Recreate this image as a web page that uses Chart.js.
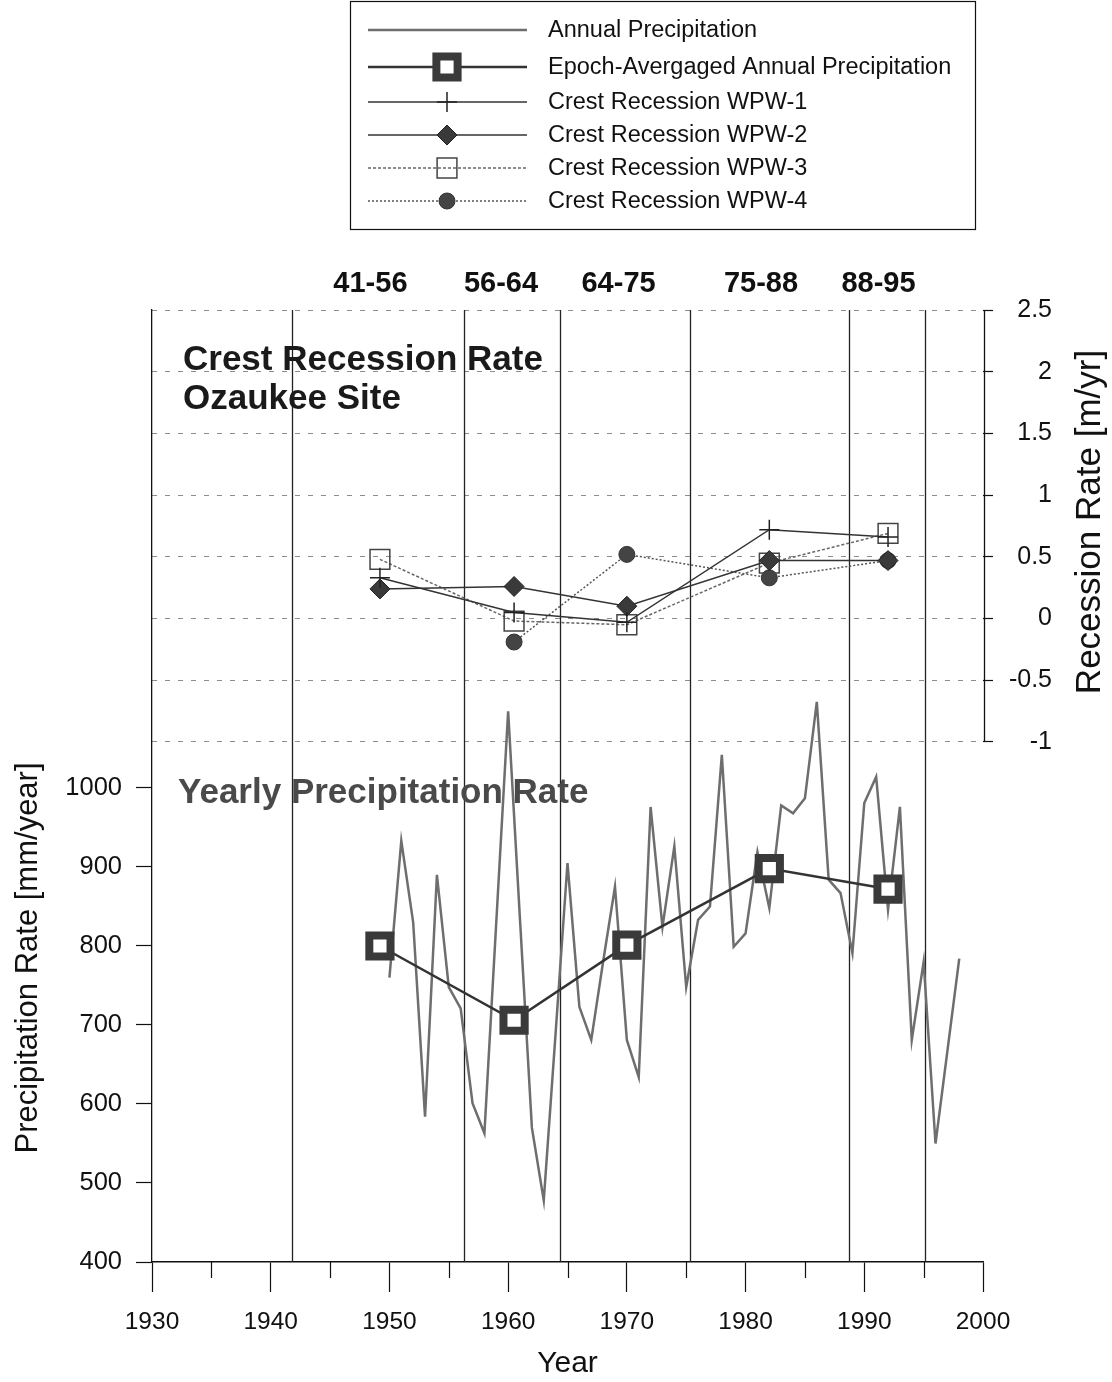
<!DOCTYPE html>
<html>
<head>
<meta charset="utf-8">
<title>Crest Recession Rate - Ozaukee Site</title>
<script src="https://cdn.jsdelivr.net/npm/chart.js@4/dist/chart.umd.min.js"></script>
<style>
  html, body { margin: 0; padding: 0; background: #fff; }
  #wrap { width: 1112px; height: 1382px; }
</style>
</head>
<body>
<div id="wrap"><canvas id="chart" width="1112" height="1382"></canvas></div>
<script>
// ---- data ----
const years = [1950, 1951, 1952, 1953, 1954, 1955, 1956, 1957, 1958, 1959,
               1960, 1961, 1962, 1963, 1964, 1965, 1966, 1967, 1968, 1969,
               1970, 1971, 1972, 1973, 1974, 1975, 1976, 1977, 1978, 1979,
               1980, 1981, 1982, 1983, 1984, 1985, 1986, 1987, 1988, 1989,
               1990, 1991, 1992, 1993, 1994, 1995, 1996, 1997, 1998];
const annualPrecip = [760, 933, 830, 584, 890, 748, 721, 601, 563, 830,
                      1097, 833, 570, 478, 690, 905, 723, 681, 780, 875,
                      681, 634, 976, 824, 926, 748, 833, 850, 1042, 799,
                      816, 919, 848, 978, 968, 987, 1109, 884, 867, 791,
                      981, 1014, 846, 976, 681, 780, 550, 667, 784];

// epoch mid points
const epochYears = [1949.2, 1960.5, 1970, 1982, 1992];
const epochPrecip = [800, 706, 801, 898, 872];

// crest recession rates [m/yr]
const wpw1 = [0.33, 0.05, -0.03, 0.72, 0.66];
const wpw2 = [0.24, 0.26, 0.10, 0.47, 0.47];
const wpw3 = [0.48, -0.02, -0.05, 0.45, 0.69];
const wpw4 = [null, -0.19, 0.52, 0.33, 0.47];

// epoch boundaries and their labels
const epochBounds = [1941.8, 1956.3, 1964.4, 1975.3, 1988.7, 1995.1];
const epochLabels = ["41-56", "56-64", "64-75", "75-88", "88-95"];
const epochLabelYears = [1948.4, 1959.4, 1969.3, 1981.3, 1991.2];

// axis ticks
const yearTicks = [1930, 1940, 1950, 1960, 1970, 1980, 1990, 2000];
const minorYearTicks = [1935, 1945, 1955, 1965, 1975, 1985, 1995];
const precipTicks = [400, 500, 600, 700, 800, 900, 1000];
const rateTicks = [-1, -0.5, 0, 0.5, 1, 1.5, 2, 2.5];

const FONT = "'Liberation Sans', Arial, Helvetica, sans-serif";
Chart.defaults.font.family = FONT;

const pts = (xs, ys) => xs.map((x, i) => ({ x: x, y: ys[i] })).filter(p => p.y !== null);

// legend rows (own drawing, line + marker sample)
const legendRows = [
  { text: "Annual Precipitation", ds: 1 },
  { text: "Epoch-Avergaged Annual Precipitation", ds: 0 },
  { text: "Crest Recession WPW-1", ds: 2 },
  { text: "Crest Recession WPW-2", ds: 3 },
  { text: "Crest Recession WPW-3", ds: 4 },
  { text: "Crest Recession WPW-4", ds: 5 }
];
const legendRowY = [30, 67, 102, 135, 168, 201];

const decor = {
  id: "decor",
  beforeDatasetsDraw(chart) {
    const { ctx, chartArea: a, scales: { x, yR } } = chart;
    ctx.save();
    // epoch boundary lines
    ctx.strokeStyle = "#222";
    ctx.lineWidth = 1.3;
    epochBounds.forEach(b => {
      const px = Math.round(x.getPixelForValue(b)) + 0.5;
      ctx.beginPath();
      ctx.moveTo(px, a.top);
      ctx.lineTo(px, a.bottom);
      ctx.stroke();
    });
    // right axis line only over the recession range
    ctx.strokeStyle = "#111";
    ctx.lineWidth = 1.3;
    ctx.beginPath();
    ctx.moveTo(a.right + 1.5, yR.getPixelForValue(rateTicks[rateTicks.length - 1]));
    ctx.lineTo(a.right + 1.5, yR.getPixelForValue(rateTicks[0]));
    ctx.stroke();
    // minor year ticks
    ctx.lineWidth = 1.2;
    minorYearTicks.forEach(v => {
      const px = Math.round(x.getPixelForValue(v)) + 0.5;
      ctx.beginPath();
      ctx.moveTo(px, a.bottom);
      ctx.lineTo(px, a.bottom + 16);
      ctx.stroke();
    });
    ctx.restore();
  },
  afterDraw(chart) {
    const { ctx, scales: { x } } = chart;
    ctx.save();

    // epoch labels
    ctx.fillStyle = "#111";
    ctx.font = "bold 29px " + FONT;
    ctx.textAlign = "center";
    ctx.textBaseline = "middle";
    epochLabels.forEach((t, i) => ctx.fillText(t, x.getPixelForValue(epochLabelYears[i]), 284));

    // panel captions
    ctx.textAlign = "left";
    ctx.textBaseline = "alphabetic";
    ctx.font = "bold 35px " + FONT;
    ctx.fillStyle = "#1a1a1a";
    ctx.fillText("Crest Recession Rate", 183, 370);
    ctx.fillText("Ozaukee Site", 183, 409);
    ctx.fillStyle = "#4a4a4a";
    ctx.font = "bold 35px " + FONT;
    ctx.fillText("Yearly Precipitation Rate", 178, 803);

    // rotated axis titles
    ctx.fillStyle = "#111";
    ctx.textAlign = "center";
    ctx.textBaseline = "middle";
    ctx.save();
    ctx.font = "31px " + FONT;
    ctx.translate(28, 958);
    ctx.rotate(-Math.PI / 2);
    ctx.fillText("Precipitation Rate [mm/year]", 0, 0);
    ctx.restore();
    ctx.save();
    ctx.font = "35px " + FONT;
    ctx.translate(1090, 522);
    ctx.rotate(-Math.PI / 2);
    ctx.fillText("Recession Rate [m/yr]", 0, 0);
    ctx.restore();

    // legend box
    ctx.strokeStyle = "#111";
    ctx.lineWidth = 1.2;
    ctx.strokeRect(350.5, 1.5, 625, 228);
    legendRows.forEach((row, i) => {
      const ds = chart.data.datasets[row.ds];
      const y = legendRowY[i];
      ctx.save();
      ctx.strokeStyle = ds.borderColor;
      ctx.lineWidth = ds.borderWidth;
      ctx.setLineDash(ds.borderDash || []);
      ctx.beginPath();
      ctx.moveTo(368, y);
      ctx.lineTo(527, y);
      ctx.stroke();
      ctx.setLineDash([]);
      if (ds.pointRadius > 0) {
        ctx.fillStyle = ds.pointBackgroundColor;
        ctx.strokeStyle = ds.pointBorderColor;
        ctx.lineWidth = ds.pointBorderWidth;
        Chart.helpers.drawPoint(ctx, {
          pointStyle: ds.pointStyle, radius: ds.pointRadius,
          rotation: 0, borderWidth: ds.pointBorderWidth
        }, 447, y);
      }
      ctx.restore();
      ctx.fillStyle = "#111";
      ctx.font = "23.5px " + FONT;
      ctx.textAlign = "left";
      ctx.textBaseline = "middle";
      ctx.fillText(row.text, 548, y + 1);
    });
    ctx.restore();
  }
};

new Chart(document.getElementById("chart"), {
  type: "line",
  data: {
    datasets: [
      {
        label: "Epoch-Avergaged Annual Precipitation",
        data: pts(epochYears, epochPrecip),
        yAxisID: "yP",
        borderColor: "#333",
        borderWidth: 2.5,
        pointStyle: "rect",
        pointRadius: 15,
        pointBorderWidth: 8,
        pointBorderColor: "#3a3a3a",
        pointBackgroundColor: "#fff"
      },
      {
        label: "Annual Precipitation",
        data: pts(years, annualPrecip),
        yAxisID: "yP",
        borderColor: "#6e6e6e",
        borderWidth: 2.5,
        pointRadius: 0
      },
      {
        label: "Crest Recession WPW-1",
        data: pts(epochYears, wpw1),
        yAxisID: "yR",
        borderColor: "#333",
        borderWidth: 1.5,
        pointStyle: "cross",
        pointRadius: 10,
        pointBorderWidth: 1.5,
        pointBorderColor: "#222",
        pointBackgroundColor: "#222"
      },
      {
        label: "Crest Recession WPW-2",
        data: pts(epochYears, wpw2),
        yAxisID: "yR",
        borderColor: "#333",
        borderWidth: 1.5,
        pointStyle: "rectRot",
        pointRadius: 10,
        pointBorderWidth: 1,
        pointBorderColor: "#222",
        pointBackgroundColor: "#3a3a3a"
      },
      {
        label: "Crest Recession WPW-3",
        data: pts(epochYears, wpw3),
        yAxisID: "yR",
        borderColor: "#666",
        borderWidth: 1.5,
        borderDash: [3, 2],
        pointStyle: "rect",
        pointRadius: 14,
        pointBorderWidth: 1.5,
        pointBorderColor: "#444",
        pointBackgroundColor: "rgba(255,255,255,0)"
      },
      {
        label: "Crest Recession WPW-4",
        data: pts(epochYears, wpw4),
        yAxisID: "yR",
        borderColor: "#555",
        borderWidth: 1.5,
        borderDash: [2, 2],
        pointStyle: "circle",
        pointRadius: 8,
        pointBorderWidth: 1,
        pointBorderColor: "#333",
        pointBackgroundColor: "#444"
      }
    ]
  },
  options: {
    responsive: false,
    animation: false,
    devicePixelRatio: 1,
    elements: { line: { tension: 0, fill: false } },
    layout: { padding: { top: 310, right: 60, left: 0, bottom: 0 } },
    plugins: { legend: { display: false }, tooltip: { enabled: false } },
    scales: {
      x: {
        type: "linear", position: "bottom", min: 1930, max: 2000,
        afterBuildTicks: s => { s.ticks = yearTicks.map(v => ({ value: v })); },
        afterFit: s => { s.height = 120; },
        grid: { drawOnChartArea: false, tickLength: 30, tickColor: "#111", tickWidth: 1.2 },
        border: { color: "#111", width: 1.5 },
        ticks: {
          color: "#111", font: { size: 24.5 }, padding: 16,
          maxRotation: 0, autoSkip: false, callback: v => String(v)
        },
        title: {
          display: true, text: "Year", color: "#111",
          font: { size: 30 }, padding: { top: 0, bottom: 0 }
        }
      },
      yP: {
        type: "linear", position: "left", min: 400, max: 1605,
        afterBuildTicks: s => { s.ticks = precipTicks.map(v => ({ value: v })); },
        afterFit: s => { s.width = 152; },
        grid: { drawOnChartArea: false, tickLength: 16, tickColor: "#111", tickWidth: 1.2 },
        border: { color: "#111", width: 1.3 },
        ticks: { color: "#111", font: { size: 25.5 }, padding: 14, autoSkip: false, callback: v => String(v) }
      },
      yR: {
        type: "linear", position: "right", min: -5.213, max: 2.5,
        afterBuildTicks: s => { s.ticks = rateTicks.map(v => ({ value: v })); },
        afterFit: s => { s.width = 69; },
        grid: { drawOnChartArea: true, color: "#8c8c8c", lineWidth: 1, tickLength: 10, tickColor: "#111", tickWidth: 1.2 },
        border: { display: false, dash: [5, 8] },
        ticks: { color: "#111", font: { size: 25 }, crossAlign: "far", autoSkip: false, callback: v => String(v) }
      }
    }
  },
  plugins: [decor]
});
</script>
</body>
</html>
